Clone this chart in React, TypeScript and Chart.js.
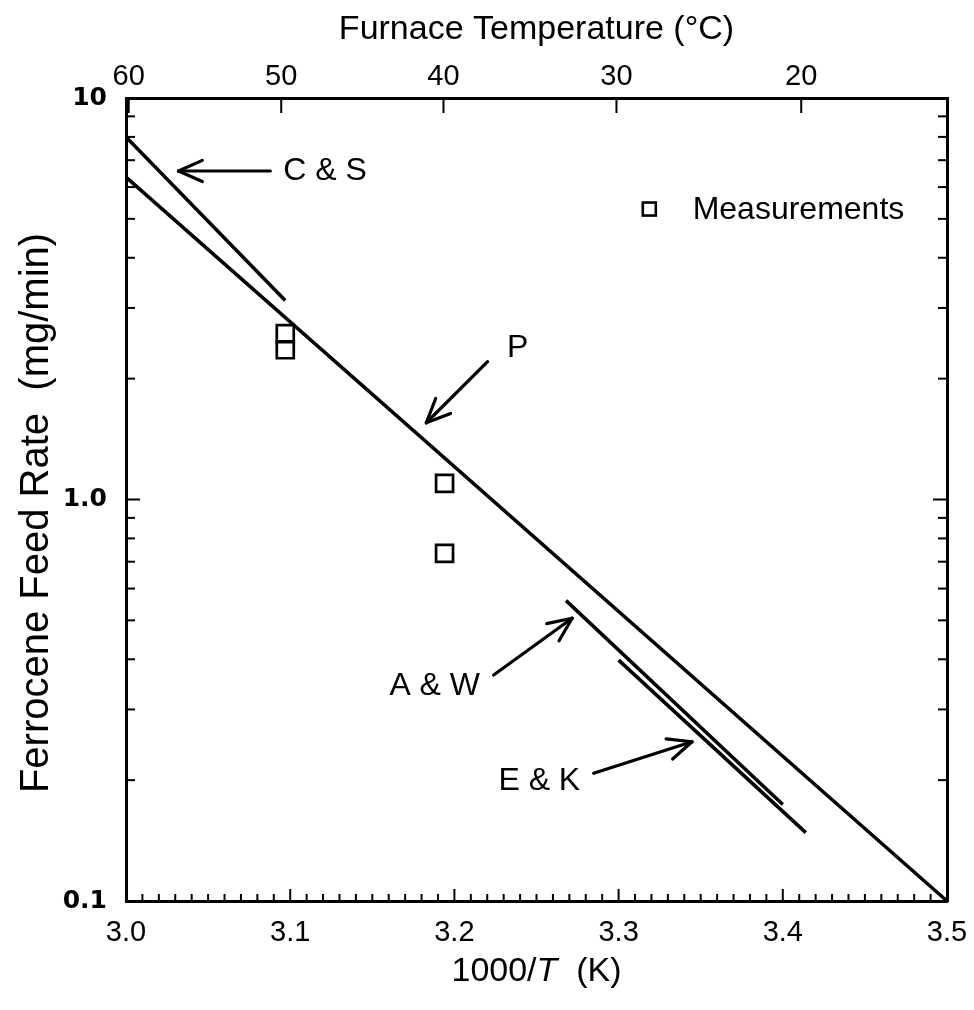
import React, { useEffect, useRef } from "react";
import { Chart, registerables } from "chart.js";
Chart.register(...registerables);

// ---- axis ticks / labels ----
const xTickValues = [3.0, 3.1, 3.2, 3.3, 3.4, 3.5];
const xTickLabels = ["3.0", "3.1", "3.2", "3.3", "3.4", "3.5"];
const yTickValues = [0.1, 1, 10];
const yTickLabels = ["0.1", "1.0", "10"];
const tempLabelsC = [60, 50, 40, 30, 20];

// ---- model lines (1000/T, mg/min) ----
const pLineX = [3.0, 3.5];
const pLineY = [6.35, 0.1];
const csLineX = [3.0, 3.097];
const csLineY = [8.0, 3.13];
const awLineX = [3.268, 3.4];
const awLineY = [0.56, 0.174];
const ekLineX = [3.3, 3.414];
const ekLineY = [0.398, 0.148];

// ---- measurements ----
const measX = [3.097, 3.097, 3.194, 3.194];
const measY = [2.59, 2.36, 1.097, 0.734];

// ---- annotations ----
const annoText = ["C & S", "P", "A & W", "E & K"];
const annoX = [3.0958, 3.232, 3.1604, 3.2268];
const annoY = [6.58, 2.384, 0.343, 0.199];
const arrowTailX = [3.0879, 3.2202, 3.2239, 3.2848];
const arrowTailY = [6.58, 2.204, 0.3655, 0.208];
const arrowTipX = [3.032, 3.1829, 3.2717, 3.3447];
const arrowTipY = [6.58, 1.553, 0.506, 0.2493];

const legendLabel = "Measurements";
const legendMarkX = 3.3187;
const legendTextX = 3.3451;
const legendY = 5.29;

const topTitle = "Furnace Temperature (°C)";
const leftTitle = "Ferrocene Feed Rate  (mg/min)";

const SANS = "'Liberation Sans', Arial, sans-serif";

const pts = (xs: number[], ys: number[]) => xs.map((x, i) => ({ x, y: ys[i] }));

const noPad = (s: any) => {
  s.paddingLeft = 0;
  s.paddingRight = 0;
  s.paddingTop = 0;
  s.paddingBottom = 0;
};

const decor = {
  id: "decor",
  afterDraw(chart: any) {
    const { ctx, chartArea: a, scales } = chart;
    const xs = scales.x;
    const ys = scales.y;
    const line = (x1: number, y1: number, x2: number, y2: number) => {
      ctx.beginPath();
      ctx.moveTo(x1, y1);
      ctx.lineTo(x2, y2);
      ctx.stroke();
    };
    ctx.save();
    ctx.strokeStyle = "#000";
    ctx.fillStyle = "#000";
    ctx.lineCap = "butt";

    // bottom ticks (inward)
    ctx.lineWidth = 2;
    for (let i = 0; i <= 50; i++) {
      const v = 3.0 + i * 0.01;
      const px = xs.getPixelForValue(v);
      const len = i % 10 === 0 ? 12 : 7;
      line(px, a.bottom, px, a.bottom - len);
    }
    // top ticks at temperatures
    tempLabelsC.forEach((t) => {
      const px = xs.getPixelForValue(1000 / (t + 273.15));
      line(px, a.top, px, a.top + 15);
    });
    // left / right log ticks
    for (let e = -1; e <= 1; e++) {
      for (let m = 1; m < 10; m++) {
        const v = m * Math.pow(10, e);
        if (v > 10.0001) continue;
        const py = ys.getPixelForValue(v);
        const len = m === 1 ? 14 : 9;
        line(a.left, py, a.left + len, py);
        line(a.right, py, a.right - len, py);
      }
    }

    // arrows
    ctx.lineWidth = 3.2;
    ctx.lineCap = "round";
    for (let i = 0; i < arrowTailX.length; i++) {
      const tx = xs.getPixelForValue(arrowTailX[i]);
      const ty = ys.getPixelForValue(arrowTailY[i]);
      const hx = xs.getPixelForValue(arrowTipX[i]);
      const hy = ys.getPixelForValue(arrowTipY[i]);
      line(tx, ty, hx, hy);
      const ang = Math.atan2(ty - hy, tx - hx);
      const hl = 26;
      const ha = (24 * Math.PI) / 180;
      line(hx, hy, hx + hl * Math.cos(ang + ha), hy + hl * Math.sin(ang + ha));
      line(hx, hy, hx + hl * Math.cos(ang - ha), hy + hl * Math.sin(ang - ha));
    }

    // annotation labels
    ctx.font = `32px ${SANS}`;
    ctx.textAlign = "left";
    ctx.textBaseline = "middle";
    for (let i = 0; i < annoText.length; i++) {
      ctx.fillText(annoText[i], xs.getPixelForValue(annoX[i]), ys.getPixelForValue(annoY[i]));
    }

    // legend
    const lx = xs.getPixelForValue(legendMarkX);
    const ly = ys.getPixelForValue(legendY);
    ctx.lineWidth = 2.6;
    ctx.lineCap = "butt";
    ctx.strokeRect(lx - 6.5, ly - 6.5, 13, 13);
    ctx.fillText(legendLabel, xs.getPixelForValue(legendTextX), ly + 1);

    // axis titles
    const cx = (a.left + a.right) / 2;
    ctx.font = `34px ${SANS}`;
    ctx.textAlign = "center";
    ctx.fillText(topTitle, cx, 30);

    // bottom title with italic T
    const p1 = "1000/";
    const p2 = "T";
    const p3 = "  (K)";
    ctx.font = `34px ${SANS}`;
    const w1 = ctx.measureText(p1).width;
    const w3 = ctx.measureText(p3).width;
    ctx.font = `italic 34px ${SANS}`;
    const w2 = ctx.measureText(p2).width;
    let sx = cx - (w1 + w2 + w3) / 2;
    const by = 972;
    ctx.textAlign = "left";
    ctx.font = `34px ${SANS}`;
    ctx.fillText(p1, sx, by);
    sx += w1;
    ctx.font = `italic 34px ${SANS}`;
    ctx.fillText(p2, sx, by);
    sx += w2;
    ctx.font = `34px ${SANS}`;
    ctx.fillText(p3, sx, by);

    // left title rotated
    ctx.save();
    ctx.translate(37, 513);
    ctx.rotate(-Math.PI / 2);
    ctx.textAlign = "center";
    ctx.font = `40px ${SANS}`;
    ctx.fillText(leftTitle, 0, 0);
    ctx.restore();

    ctx.restore();
  },
};

export default function App() {
  const ref = useRef<HTMLCanvasElement | null>(null);
  useEffect(() => {
    document.body.style.margin = "0";
    document.body.style.overflow = "hidden";
    const lineDs = (label: string, xs: number[], ys: number[]) => ({
      label,
      data: pts(xs, ys),
      showLine: true,
      borderColor: "#000",
      borderWidth: 3.5,
      pointRadius: 0,
      fill: false,
      clip: false as any,
    });
    const chart = new Chart(ref.current as HTMLCanvasElement, {
      type: "scatter",
      data: {
        datasets: [
          lineDs("P", pLineX, pLineY),
          lineDs("C & S", csLineX, csLineY),
          lineDs("A & W", awLineX, awLineY),
          lineDs("E & K", ekLineX, ekLineY),
          {
            label: "Measurements",
            data: pts(measX, measY),
            showLine: false,
            pointStyle: "rect",
            pointRadius: 12,
            pointBorderWidth: 2.7,
            pointBorderColor: "#000",
            pointBackgroundColor: "rgba(0,0,0,0)",
            clip: false as any,
          } as any,
        ],
      },
      options: {
        responsive: false,
        maintainAspectRatio: false,
        devicePixelRatio: 1,
        animation: false,
        layout: { padding: { left: 0, right: 0, top: 0, bottom: 0 } },
        plugins: { legend: { display: false }, tooltip: { enabled: false } },
        scales: {
          x: {
            type: "linear",
            position: "bottom",
            min: 3.0,
            max: 3.5,
            afterBuildTicks: (s: any) => {
              s.ticks = xTickValues.map((v) => ({ value: v }));
            },
            ticks: {
              autoSkip: false,
              maxRotation: 0,
              padding: 15,
              color: "#000",
              font: { family: SANS, size: 29 },
              callback: (_v: any, i: number) => xTickLabels[i],
            },
            grid: { display: false, drawTicks: false },
            border: { display: true, color: "#000", width: 3 },
            afterFit: (s: any) => {
              s.height = 109;
              noPad(s);
            },
          },
          xTop: {
            type: "linear",
            position: "top",
            min: 3.0,
            max: 3.5,
            afterBuildTicks: (s: any) => {
              s.ticks = tempLabelsC.map((t) => ({ value: 1000 / (t + 273.15) }));
            },
            ticks: {
              autoSkip: false,
              maxRotation: 0,
              padding: 4,
              color: "#000",
              font: { family: SANS, size: 29 },
              callback: (_v: any, i: number) => String(tempLabelsC[i]),
            },
            grid: { display: false, drawTicks: false },
            border: { display: true, color: "#000", width: 3 },
            afterFit: (s: any) => {
              s.height = 98;
              noPad(s);
            },
          },
          y: {
            type: "logarithmic",
            position: "left",
            min: 0.1,
            max: 10,
            afterBuildTicks: (s: any) => {
              s.ticks = yTickValues.map((v) => ({ value: v }));
            },
            ticks: {
              autoSkip: false,
              padding: 19,
              color: "#000",
              font: { family: "'DejaVu Sans', sans-serif", size: 25, weight: "bold" },
              callback: (_v: any, i: number) => yTickLabels[i],
            },
            grid: { display: false, drawTicks: false },
            border: { display: true, color: "#000", width: 3 },
            afterFit: (s: any) => {
              s.width = 126;
              noPad(s);
            },
          },
          yRight: {
            type: "logarithmic",
            position: "right",
            min: 0.1,
            max: 10,
            ticks: { display: false },
            grid: { display: false, drawTicks: false },
            border: { display: true, color: "#000", width: 3 },
            afterFit: (s: any) => {
              s.width = 27;
              noPad(s);
            },
          },
        },
      } as any,
      plugins: [decor],
    });
    return () => chart.destroy();
  }, []);
  return (
    <canvas
      ref={ref}
      width={974}
      height={1010}
      style={{ display: "block", width: 974, height: 1010 }}
    />
  );
}
